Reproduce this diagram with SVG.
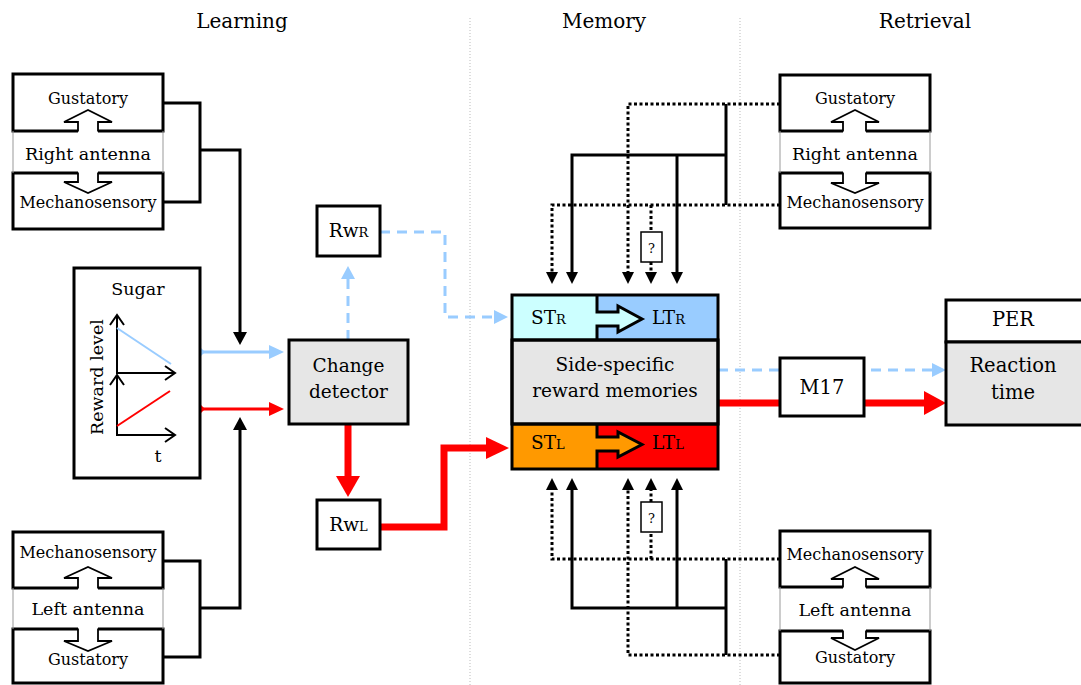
<svg xmlns="http://www.w3.org/2000/svg" width="1081" height="685" viewBox="0 0 1081 685">
<style>
text{font-family:"DejaVu Serif","Liberation Serif",serif;fill:#000}
.sm{font-size:16px}
.md{font-size:17.5px}
.lg{font-size:18.5px}
.ttl{font-size:20px}
.box{fill:#fff;stroke:#000;stroke-width:3}
.gbox{fill:#e6e6e6;stroke:#000;stroke-width:3}
.thin{stroke:#999;stroke-width:1}
.hf{fill:#fff;stroke:none}
.hs{fill:none;stroke:#000;stroke-width:1.8}
.c{fill:none;stroke:#000;stroke-width:3}
.d{fill:none;stroke:#000;stroke-width:3;stroke-dasharray:3 2.5}
.bd{fill:none;stroke:#99ccff;stroke-width:3;stroke-dasharray:10 7}
.bs{fill:none;stroke:#99ccff;stroke-width:3}
.r{fill:none;stroke:#ff0000;stroke-width:7}
.rs{fill:none;stroke:#ff0000;stroke-width:3}
.ax{fill:none;stroke:#000;stroke-width:2}
.sep{stroke:#bbb;stroke-width:1;stroke-dasharray:1 2}
</style>

<g id="separators">
<line class="sep" x1="470" y1="18" x2="470" y2="685"/>
<line class="sep" x1="740" y1="18" x2="740" y2="685"/>
</g>

<g id="titles">
<text class="ttl" x="242" y="28" text-anchor="middle">Learning</text>
<text class="ttl" x="604" y="28" text-anchor="middle">Memory</text>
<text class="ttl" x="925" y="28" text-anchor="middle">Retrieval</text>
</g>

<g id="connectors">
<path class="c" d="M163,103 H200 V202 H163"/>
<path class="c" d="M200,150 H240 V333"/>
<polygon points="233,332 240,345 247,332"/>
<path class="c" d="M163,561 H200 V657 H163"/>
<path class="c" d="M200,608 H240 V429"/>
<polygon points="233,430 240,417 247,430"/>
<path class="bs" d="M199,352 H271"/>
<polygon fill="#99ccff" points="269,345 284,352 269,359"/>
<polygon fill="#99ccff" points="199,346 205,352 199,358 193,352"/>
<path class="rs" d="M199,409 H271"/>
<polygon fill="#ff0000" points="269,402 284,409 269,416"/>
<polygon fill="#ff0000" points="199,403 205,409 199,415 193,409"/>
<path class="bd" d="M348,340 V279"/>
<polygon fill="#99ccff" points="341,279 348,266 355,279"/>
<path class="bd" d="M380,232 H445 V317 H494"/>
<polygon fill="#99ccff" points="494,310 508,317 494,324"/>
<path class="r" d="M348,424 V477"/>
<polygon fill="#ff0000" points="336,476 348,497 360,476"/>
<path class="r" d="M380,527 H444 V448 H487"/>
<polygon fill="#ff0000" points="486,437 509,448 486,459"/>
<path class="bd" d="M718,370 H933"/>
<polygon fill="#99ccff" points="932,363 946,370 932,377"/>
<path class="r" d="M718,403 H925"/>
<polygon fill="#ff0000" points="924,391 946,403 924,415"/>
<path class="d" d="M780,104 H628 V273"/>
<polygon points="622,272 628,284 634,272"/>
<path class="c" d="M726,104 V205"/>
<path class="c" d="M726,155 H572 V273"/>
<polygon points="566,272 572,284 578,272"/>
<path class="c" d="M677,155 V273"/>
<polygon points="671,272 677,284 683,272"/>
<path class="d" d="M780,205 H552 V273"/>
<polygon points="546,272 552,284 558,272"/>
<path class="d" d="M651,205 V232 M651,262 V273"/>
<polygon points="645,272 651,284 657,272"/>
<path class="d" d="M780,559 H552 V489"/>
<polygon points="546,490 552,478 558,490"/>
<path class="d" d="M651,559 V532 M651,502 V489"/>
<polygon points="645,490 651,478 657,490"/>
<path class="c" d="M726,559 V655"/>
<path class="c" d="M726,608 H572 V489"/>
<polygon points="566,490 572,478 578,490"/>
<path class="c" d="M677,608 V489"/>
<polygon points="671,490 677,478 683,490"/>
<path class="d" d="M780,655 H628 V489"/>
<polygon points="622,490 628,478 634,490"/>
</g>

<g id="q-top">
<rect x="641" y="232" width="21" height="30" fill="#fff" stroke="#000" stroke-width="1.5"/>
<text x="651.5" y="253" text-anchor="middle" font-size="13">?</text>
</g>
<g id="q-bottom">
<rect x="641" y="502" width="21" height="30" fill="#fff" stroke="#000" stroke-width="1.5"/>
<text x="651.5" y="523" text-anchor="middle" font-size="13">?</text>
</g>

<g id="right-antenna-learning">
<rect class="box" x="13" y="74" width="150" height="57"/>
<rect class="box" x="13" y="173" width="150" height="56"/>
<line class="thin" x1="13" y1="131" x2="13" y2="173"/>
<line class="thin" x1="163" y1="131" x2="163" y2="173"/>
<polygon class="hf" points="78,133 78,122 64,122 88,110 112,122 98,122 98,133"/>
<path class="hs" d="M78,131.5 V122 H64 L88,110 L112,122 H98 V131.5"/>
<polygon class="hf" points="78,171 78,182 64,182 88,193 112,182 98,182 98,171"/>
<path class="hs" d="M78,172.5 V182 H64 L88,193 L112,182 H98 V172.5"/>
<text class="sm" x="88" y="104" text-anchor="middle">Gustatory</text>
<text class="md" x="88" y="160" text-anchor="middle">Right antenna</text>
<text class="sm" x="88" y="208" text-anchor="middle">Mechanosensory</text>
</g>

<g id="left-antenna-learning">
<rect class="box" x="13" y="532" width="150" height="56"/>
<rect class="box" x="13" y="629" width="150" height="54"/>
<line class="thin" x1="13" y1="588" x2="13" y2="629"/>
<line class="thin" x1="163" y1="588" x2="163" y2="629"/>
<polygon class="hf" points="78,590 78,578 64,578 88,567 112,578 98,578 98,590"/>
<path class="hs" d="M78,588.5 V578 H64 L88,567 L112,578 H98 V588.5"/>
<polygon class="hf" points="78,627 78,641 64,641 88,651 112,641 98,641 98,627"/>
<path class="hs" d="M78,628.5 V641 H64 L88,651 L112,641 H98 V628.5"/>
<text class="sm" x="88" y="558" text-anchor="middle">Mechanosensory</text>
<text class="md" x="88" y="615" text-anchor="middle">Left antenna</text>
<text class="sm" x="88" y="665" text-anchor="middle">Gustatory</text>
</g>

<g id="sugar">
<rect class="box" x="74" y="268" width="126" height="210"/>
<text class="md" x="138" y="295" text-anchor="middle">Sugar</text>
<text class="md" transform="translate(103,377) rotate(-90)" text-anchor="middle">Reward level</text>
<path class="ax" d="M117,316 V373 H175"/>
<path class="ax" d="M110,325 L117,315 L124,325 M165,366 L175,373 L165,380"/>
<path class="ax" d="M117,376 V435 H175"/>
<path class="ax" d="M110,385 L117,375 L124,385 M165,428 L175,435 L165,442"/>
<line x1="117" y1="328" x2="171" y2="364" stroke="#99ccff" stroke-width="2"/>
<line x1="117" y1="426" x2="170" y2="391" stroke="#ff0000" stroke-width="2"/>
<text class="md" x="158" y="462" text-anchor="middle">t</text>
</g>

<g id="change-detector">
<rect class="gbox" x="289" y="340" width="119" height="84"/>
<text class="lg" x="348.5" y="372" text-anchor="middle">Change</text>
<text class="lg" x="348.5" y="398" text-anchor="middle">detector</text>
</g>

<g id="rw-r">
<rect class="box" x="317" y="206" width="63" height="50"/>
<text x="348.5" y="237" text-anchor="middle" font-size="18.5">Rw<tspan font-size="13">R</tspan></text>
</g>
<g id="rw-l">
<rect class="box" x="317" y="500" width="63" height="49"/>
<text x="348.5" y="531" text-anchor="middle" font-size="18.5">Rw<tspan font-size="13">L</tspan></text>
</g>

<g id="memory">
<rect x="512" y="295" width="85" height="45" fill="#ccffff"/>
<rect x="597" y="295" width="121" height="45" fill="#99ccff"/>
<rect x="512" y="424" width="85" height="45" fill="#ff9900"/>
<rect x="597" y="424" width="121" height="45" fill="#ff0000"/>
<rect class="gbox" x="512" y="340" width="206" height="84"/>
<rect x="512" y="295" width="206" height="174" fill="none" stroke="#000" stroke-width="3"/>
<line x1="512" y1="340" x2="718" y2="340" stroke="#000" stroke-width="3"/>
<line x1="512" y1="424" x2="718" y2="424" stroke="#000" stroke-width="3"/>
<polygon fill="#ccffff" points="596,312 618,312 618,306 642,319 618,332 618,326 596,326"/>
<path fill="none" stroke="#000" stroke-width="3" d="M597,295 V312 H618 V306 L642,319 L618,332 V326 H597 V340"/>
<polygon fill="#ff9900" points="596,437 618,437 618,432 642,444.5 618,457 618,451 596,451"/>
<path fill="none" stroke="#000" stroke-width="3" d="M597,424 V437 H618 V432 L642,444.5 L618,457 V451 H597 V469"/>
<text x="531" y="324" font-size="18.5">ST<tspan font-size="13">R</tspan></text>
<text x="652" y="324" font-size="18.5">LT<tspan font-size="13">R</tspan></text>
<text x="531" y="449" font-size="18.5">ST<tspan font-size="13">L</tspan></text>
<text x="652" y="449" font-size="18.5">LT<tspan font-size="13">L</tspan></text>
<text class="lg" x="615" y="371" text-anchor="middle">Side-specific</text>
<text class="lg" x="615" y="397" text-anchor="middle">reward memories</text>
</g>

<g id="m17">
<rect class="box" x="780" y="358" width="84" height="58"/>
<text x="822" y="394" text-anchor="middle" font-size="19.5">M17</text>
</g>

<g id="per">
<rect class="box" x="946" y="300" width="140" height="42"/>
<rect class="gbox" x="946" y="342" width="140" height="83"/>
<text x="1013" y="326" text-anchor="middle" font-size="19.5">PER</text>
<text x="1013" y="372" text-anchor="middle" font-size="19.5">Reaction</text>
<text x="1013" y="399" text-anchor="middle" font-size="19.5">time</text>
</g>

<g id="right-antenna-retrieval">
<rect class="box" x="780" y="75" width="150" height="56"/>
<rect class="box" x="780" y="173" width="150" height="55"/>
<line class="thin" x1="780" y1="131" x2="780" y2="173"/>
<line class="thin" x1="930" y1="131" x2="930" y2="173"/>
<polygon class="hf" points="843,133 843,122 831,122 855,110 879,122 866,122 866,133"/>
<path class="hs" d="M843,131.5 V122 H831 L855,110 L879,122 H866 V131.5"/>
<polygon class="hf" points="843,171 843,183 831,183 855,193 879,183 866,183 866,171"/>
<path class="hs" d="M843,172.5 V183 H831 L855,193 L879,183 H866 V172.5"/>
<text class="sm" x="855" y="104" text-anchor="middle">Gustatory</text>
<text class="md" x="855" y="160" text-anchor="middle">Right antenna</text>
<text class="sm" x="855" y="208" text-anchor="middle">Mechanosensory</text>
</g>

<g id="left-antenna-retrieval">
<rect class="box" x="780" y="531" width="150" height="56"/>
<rect class="box" x="780" y="631" width="150" height="52"/>
<line class="thin" x1="780" y1="587" x2="780" y2="631"/>
<line class="thin" x1="930" y1="587" x2="930" y2="631"/>
<polygon class="hf" points="843,589 843,579 831,579 855,567 879,579 866,579 866,589"/>
<path class="hs" d="M843,587.5 V579 H831 L855,567 L879,579 H866 V587.5"/>
<polygon class="hf" points="843,629 843,638 831,638 855,650 879,638 866,638 866,629"/>
<path class="hs" d="M843,630.5 V638 H831 L855,650 L879,638 H866 V630.5"/>
<text class="sm" x="855" y="560" text-anchor="middle">Mechanosensory</text>
<text class="md" x="855" y="616" text-anchor="middle">Left antenna</text>
<text class="sm" x="855" y="663" text-anchor="middle">Gustatory</text>
</g>
</svg>
